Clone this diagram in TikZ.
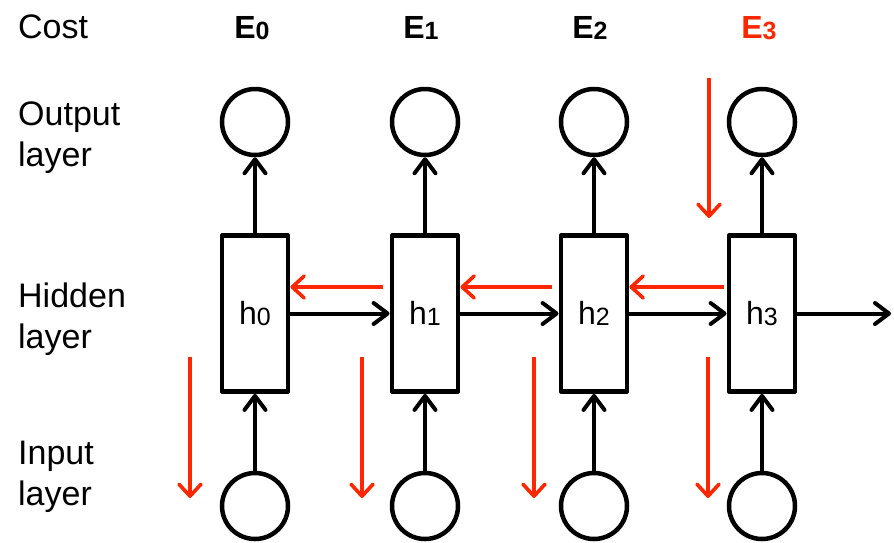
\documentclass[tikz,border=0pt]{standalone}
\usepackage{fontspec}
\setmainfont{Liberation Sans}
\usetikzlibrary{arrows.meta}
\definecolor{errred}{HTML}{FF2600}
\newcommand\lowidx[1]{\raisebox{-1.5pt}{\fontsize{25}{25}\selectfont #1}}
\begin{document}
\begin{tikzpicture}[x=1pt,y=-1pt,
  lbl/.style={anchor=base west,inner sep=0pt,font=\fontsize{34}{34}\selectfont,align=left},
  costlbl/.style={anchor=base,inner sep=0pt,font=\fontsize{32}{32}\selectfont\bfseries},
  cell/.style={draw,line width=4.8pt,line join=round,minimum width=66pt,minimum height=156pt,inner sep=0pt,
    font=\fontsize{32}{32}\selectfont},
  unit/.style={draw,circle,line width=4.5pt,minimum size=66pt,inner sep=0pt},
  fwd/.style={line width=4pt,-{Straight Barb[length=14pt,width=21pt,line cap=round,line join=round]}},
  bwd/.style={errred,line width=3.6pt,-{Straight Barb[length=12pt,width=22pt,line cap=round,line join=round]}}]
\useasboundingbox (0,0) rectangle (894,542);

% row labels
\node[lbl] (cost) at (18,38) {Cost};
\node[lbl] (outl) at (18,166) {Output\\[7pt]layer};
\node[lbl] (hidl) at (18,348) {Hidden\\[7pt]layer};
\node[lbl] (inl)  at (18,505) {Input\\[7pt]layer};

% cost labels
\node[costlbl] (e0) at (252,38) {E\lowidx{0}};
\node[costlbl] (e1) at (421,38) {E\lowidx{1}};
\node[costlbl] (e2) at (590,38) {E\lowidx{2}};
\node[costlbl,text=errred] (e3) at (759,38) {E\lowidx{3}};

% hidden cells, outputs and inputs
\foreach \i/\x in {0/255,1/425,2/594,3/762}{
  \node[cell] (h\i) at (\x,313.5) {h\lowidx{\i}};
  \node[unit] (o\i) at (\x,122) {};
  \node[unit] (x\i) at (\x,506) {};
  \draw[fwd] (h\i.north) -- (o\i.south);
  \draw[fwd] (x\i.north) -- (h\i.south);
}

% recurrent forward connections
\draw[fwd] (h0.east) -- (h1.west);
\draw[fwd] (h1.east) -- (h2.west);
\draw[fwd] (h2.east) -- (h3.west);
\coordinate (hout) at (891,313.5);
\draw[fwd] (h3.east) -- (hout);

% error flowing back through time
\draw[bwd] ([xshift=-7pt,yshift=26.5pt]h1.west) -- ([yshift=26.5pt]h0.east);
\draw[bwd] ([xshift=-7pt,yshift=26.5pt]h2.west) -- ([yshift=26.5pt]h1.east);
\draw[bwd] ([xshift=-3pt,yshift=26.5pt]h3.west) -- ([yshift=26.5pt]h2.east);

% error from the cost down into the network
\coordinate (ea) at (709,78);
\coordinate (eb) at (709,218);
\draw[bwd] (ea) -- (eb);
\foreach \i/\x in {0/190,1/362,2/534,3/708}{
  \coordinate (da\i) at (\x,357);
  \coordinate (db\i) at (\x,498);
  \draw[bwd] (da\i) -- (db\i);
}
\end{tikzpicture}
\end{document}
